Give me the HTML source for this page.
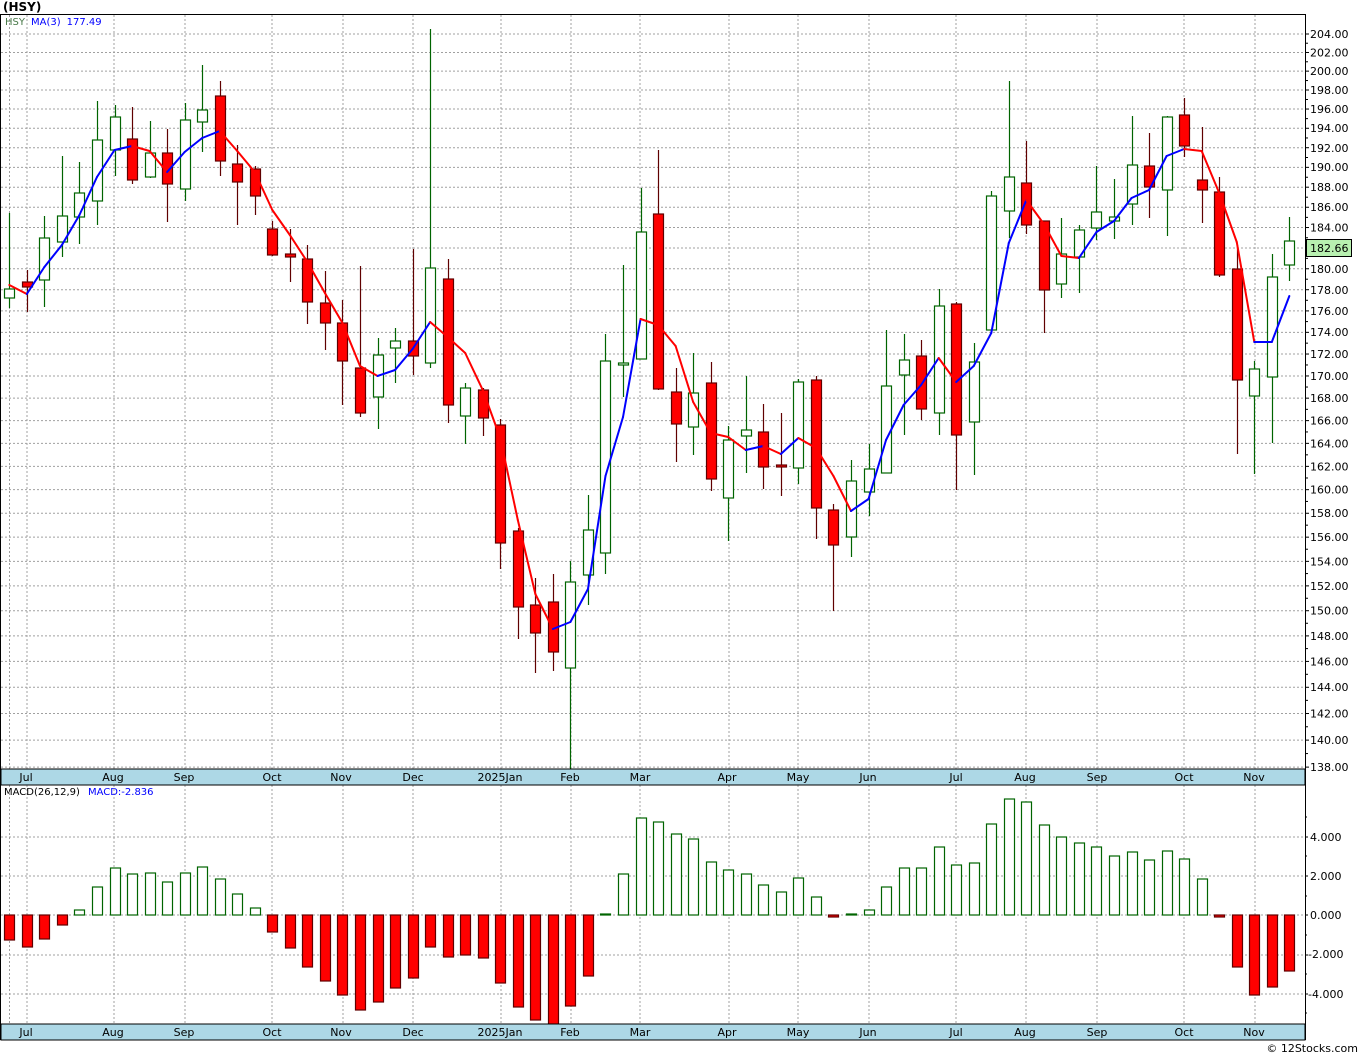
<!DOCTYPE html>
<html><head><meta charset="utf-8"><style>
html,body{margin:0;padding:0;background:#fff;}
svg{display:block;font-family:"DejaVu Sans","Liberation Sans",sans-serif;}
</style></head><body>
<svg id="s" width="1360" height="1056" viewBox="0 0 1360 1056" xmlns="http://www.w3.org/2000/svg">
<rect x="0" y="0" width="1360" height="1056" fill="#fff"/>
<g id="grid"></g>
<g id="bars"></g>
<g id="cand"></g>
<g id="ma"></g>
<rect x="0.5" y="14.5" width="1305" height="1025" fill="none" stroke="#000" stroke-width="1"/>
<line x1="1305.5" y1="14" x2="1305.5" y2="1040" stroke="#000"/>
<rect x="1" y="769" width="1304" height="16" fill="#add8e6" stroke="#000" stroke-width="1"/>
<rect x="1" y="1024" width="1304" height="16" fill="#add8e6" stroke="#000" stroke-width="1"/>
<g id="ticks"></g>
<text x="3" y="11" font-size="12" font-weight="bold" fill="#000">(HSY)</text>
<text x="5" y="25" font-size="10"><tspan fill="#4a7a4a">HSY</tspan><tspan fill="#0000ff" dx="6">MA(3)</tspan><tspan fill="#0000ff" dx="6">177.49</tspan></text>
<text x="4" y="795" font-size="10" fill="#000">MACD(26,12,9)<tspan fill="#0000ff" dx="8">MACD:-2.836</tspan></text>
<g font-size="11" fill="#000" text-anchor="middle">
<text x="26" y="781">Jul</text><text x="113" y="781">Aug</text><text x="184" y="781">Sep</text><text x="272" y="781">Oct</text><text x="341" y="781">Nov</text><text x="413" y="781">Dec</text><text x="500" y="781">2025Jan</text><text x="570" y="781">Feb</text><text x="640" y="781">Mar</text><text x="727" y="781">Apr</text><text x="798" y="781">May</text><text x="868" y="781">Jun</text><text x="956" y="781">Jul</text><text x="1025" y="781">Aug</text><text x="1097" y="781">Sep</text><text x="1184" y="781">Oct</text><text x="1254" y="781">Nov</text>
<text x="26" y="1036">Jul</text><text x="113" y="1036">Aug</text><text x="184" y="1036">Sep</text><text x="272" y="1036">Oct</text><text x="341" y="1036">Nov</text><text x="413" y="1036">Dec</text><text x="500" y="1036">2025Jan</text><text x="570" y="1036">Feb</text><text x="640" y="1036">Mar</text><text x="727" y="1036">Apr</text><text x="798" y="1036">May</text><text x="868" y="1036">Jun</text><text x="956" y="1036">Jul</text><text x="1025" y="1036">Aug</text><text x="1097" y="1036">Sep</text><text x="1184" y="1036">Oct</text><text x="1254" y="1036">Nov</text>
</g>
<g font-size="11" fill="#000">
<text x="1310" y="38">204.00</text><text x="1310" y="56.5">202.00</text><text x="1310" y="75">200.00</text><text x="1310" y="94">198.00</text><text x="1310" y="113">196.00</text><text x="1310" y="132">194.00</text><text x="1310" y="152">192.00</text><text x="1310" y="171">190.00</text><text x="1310" y="191">188.00</text><text x="1310" y="211">186.00</text><text x="1310" y="231.5">184.00</text>
<text x="1310" y="273">180.00</text><text x="1310" y="294">178.00</text><text x="1310" y="315">176.00</text><text x="1310" y="336">174.00</text><text x="1310" y="358">172.00</text><text x="1310" y="380">170.00</text><text x="1310" y="402">168.00</text><text x="1310" y="424.5">166.00</text><text x="1310" y="447.5">164.00</text><text x="1310" y="470.5">162.00</text><text x="1310" y="493.5">160.00</text><text x="1310" y="517">158.00</text><text x="1310" y="541">156.00</text><text x="1310" y="565.5">154.00</text><text x="1310" y="590">152.00</text><text x="1310" y="614.5">150.00</text><text x="1310" y="640">148.00</text><text x="1310" y="665.5">146.00</text><text x="1310" y="691">144.00</text><text x="1310" y="717.5">142.00</text><text x="1310" y="744">140.00</text><text x="1310" y="771">138.00</text>
<text x="1310" y="841">4.000</text><text x="1310" y="880">2.000</text><text x="1310" y="919">0.000</text><text x="1308" y="958">-2.000</text><text x="1308" y="998">-4.000</text>
</g>
<rect x="1306.5" y="239.5" width="45" height="17" fill="#b8f0b0" stroke="#000"/>
<text x="1310" y="252" font-size="11" fill="#000">182.66</text>
<text x="1358" y="1052" font-size="11" fill="#000" text-anchor="end">© 12Stocks.com</text>
</svg>
<script>
var NS="http://www.w3.org/2000/svg";
function el(p,t,a){var e=document.createElementNS(NS,t);for(var k in a)e.setAttribute(k,a[k]);document.getElementById(p).appendChild(e);return e;}
function X(i){return 9.3+17.535*i;}
for(var p=138;p<=204;p+=2){var y=34+1875.6*Math.log(204/p);
 el("grid","line",{x1:1,x2:1305,y1:y,y2:y,stroke:"#a0a0a0","stroke-dasharray":"2,2","stroke-width":1});
 el("ticks","line",{x1:1305,x2:1309,y1:y,y2:y,stroke:"#000"});
 var y2=34+1875.6*Math.log(204/(p+1)); if(p<204) el("ticks","line",{x1:1305,x2:1308,y1:y2,y2:y2,stroke:"#000"});}
[837,876,915,955,994].forEach(function(y){el("grid","line",{x1:1,x2:1305,y1:y,y2:y,stroke:"#a0a0a0","stroke-dasharray":"2,2"});el("ticks","line",{x1:1305,x2:1308,y1:y,y2:y,stroke:"#000"});});
[817,856,896,935,974,1013].forEach(function(y){el("ticks","line",{x1:1305,x2:1307,y1:y,y2:y,stroke:"#000"});});
[9.5,27,114,185,272,343,413,501,571,640,729,798,869,956,1026,1097,1184,1255].forEach(function(x){
 el("grid","line",{x1:x,x2:x,y1:15,y2:769,stroke:"#a0a0a0","stroke-dasharray":"2,2"});
 el("grid","line",{x1:x,x2:x,y1:785,y2:1024,stroke:"#a0a0a0","stroke-dasharray":"2,2"});});
var C=[[213,308,289,298,0],[270,312,282,287,1],[216,307,238,280,0],[156,257,216,242,0],[162,244,193,217,0],[101,225,140,201,0],[105,176,117,150,0],[107,184,139,180,1],[121,178,153,177,0],[129,222,153,184,1],[103,201,120,189,0],[65,152,110,122,0],[81,176,96,161,1],[145,225,164,182,1],[166,215,169,196,1],[221,256,229,255,1],[229,282,254,257,1],[245,324,259,302,1],[271,350,303,323,1],[300,405,323,361,1],[266,417,368,413,1],[338,429,355,397,0],[328,383,341,348,0],[249,375,341,356,1],[29,368,268,363,0],[259,423,279,405,1],[383,444,388,416,0],[388,436,390,418,1],[419,569,425,543,1],[528,639,531,607,1],[578,673,605,633,1],[574,671,602,652,1],[561,769,582,668,0],[495,605,530,575,0],[334,574,361,553,0],[265,397,363,365,0],[188,359,232,359,0],[150,390,214,389,1],[368,462,392,424,1],[353,455,393,427,0],[362,491,383,479,1],[426,541,440,498,0],[376,473,430,436,0],[404,489,432,467,1],[413,496,465,467,1],[379,484,382,468,0],[376,539,380,508,1],[504,611,510,545,1],[460,557,481,537,0],[444,516,469,492,0],[330,473,386,473,0],[334,435,360,375,0],[340,420,356,409,1],[289,435,306,413,0],[302,490,304,435,1],[343,475,362,422,0],[191,330,196,330,0],[81,238,177,211,0],[141,234,183,225,1],[221,333,221,290,1],[218,298,254,284,0],[225,293,230,257,0],[166,240,212,228,0],[179,239,217,221,0],[116,225,165,204,0],[133,218,166,187,1],[116,236,117,190,0],[98,157,115,146,1],[127,223,180,190,1],[177,277,192,275,1],[245,454,269,380,1],[361,474,369,396,0],[254,443,277,377,0],[217,281,241,265,0]];
C.forEach(function(c,i){var x=Math.round(X(i))+0.5;var r=c[4];
 el("cand","line",{x1:x,x2:x,y1:c[0],y2:c[1],stroke:r?"#600000":"#006400","stroke-width":1.2});
 el("cand","rect",{x:x-5,y:c[2],width:10,height:Math.max(2,c[3]-c[2]),fill:r?"#ff0000":"#fff",stroke:r?"#600000":"#006400","stroke-width":1.2});});
var M=[285,294,267,245,215,177,150,146,151,172,152,138,131,151,172,210,235,262,293,323,366,376,370,349,322,337,353,390,438,520,594,629,622,589,476,417,319,325,346,402,433,437,450,446,454,438,448,476,511,499,440,405,385,358,382,366,333,243,200,224,256,258,232,221,198,190,156,149,151,193,242,342,342,296];
for(var i=0;i<M.length-1;i++){el("ma","line",{x1:X(i),y1:M[i],x2:X(i+1),y2:M[i+1],stroke:M[i+1]>M[i]?"#ff0000":"#0000ff","stroke-width":2,"stroke-linecap":"round"});}
var B=[940,947,939,925,910,887,868,874,873,882,873,867,879,894,908,932,948,967,981,995,1010,1002,988,978,947,957,955,958,983,1007,1020,1025,1006,976,914,874,818,822,834,839,862,870,874,885,892,878,897,917,914,910,887,868,868,847,865,863,824,799,802,825,837,843,847,856,852,860,851,859,879,917,967,995,987,971];
B.forEach(function(b,i){var x=Math.round(X(i))+0.5;var z=915;var neg=b>z;
 el("bars","rect",{x:x-5,y:neg?z:b,width:10,height:Math.max(1,Math.abs(b-z)),fill:neg?"#ff0000":"#fff",stroke:neg?"#600000":"#006400","stroke-width":1.2});});
</script>
</body></html>
